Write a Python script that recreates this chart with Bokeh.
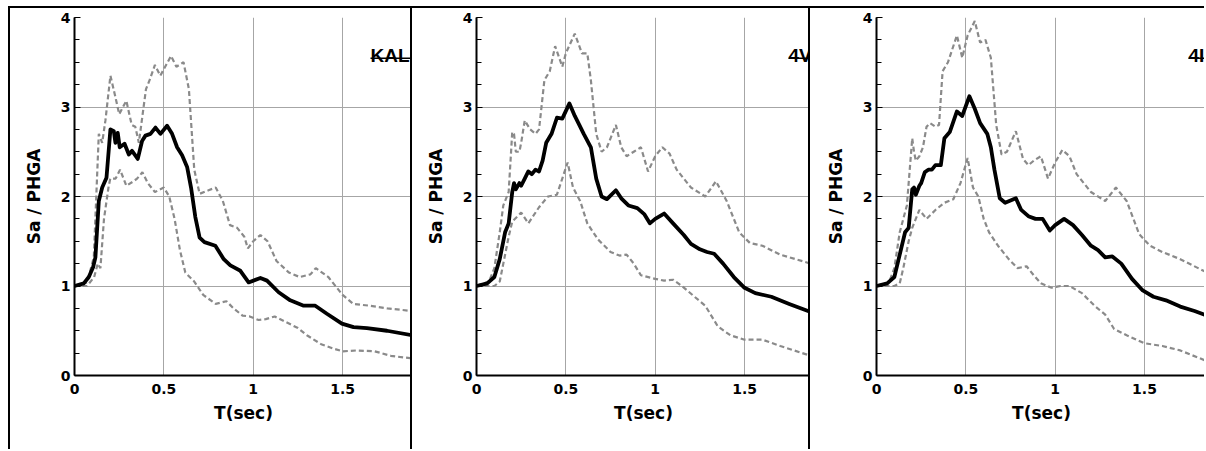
from bokeh.plotting import figure
from bokeh.layouts import row
from bokeh.models import FixedTicker
from bokeh.core.properties import value
from bokeh.embed import file_html
from bokeh.resources import INLINE

# ---------------- data ----------------
panel_titles = ["KAL", "4V", "4I"]
x_tick_values = [0, 0.5, 1, 1.5]
x_tick_labels = ["0", "0.5", "1", "1.5"]
y_tick_values = [0, 1, 2, 3, 4]
y_tick_labels = ["0", "1", "2", "3", "4"]

# Panel 1 (KAL)
kal_mean_t = [0, 0.052, 0.08, 0.104, 0.117, 0.136, 0.155, 0.179, 0.201, 0.22, 0.229, 0.242, 0.253, 0.28,
              0.304, 0.322, 0.354, 0.378, 0.397, 0.425, 0.453, 0.481, 0.518, 0.546, 0.574, 0.602, 0.63,
              0.652, 0.676, 0.70, 0.727, 0.788, 0.835, 0.872, 0.928, 0.974, 1.04, 1.077, 1.142, 1.207,
              1.282, 1.347, 1.412, 1.496, 1.561, 1.636, 1.748, 1.89]
kal_mean_sa = [1.0, 1.03, 1.10, 1.21, 1.32, 1.95, 2.10, 2.21, 2.75, 2.73, 2.60, 2.71, 2.55, 2.59,
               2.47, 2.51, 2.42, 2.62, 2.68, 2.70, 2.77, 2.70, 2.79, 2.70, 2.55, 2.46, 2.33,
               2.10, 1.77, 1.54, 1.49, 1.45, 1.30, 1.23, 1.17, 1.04, 1.09, 1.06, 0.93, 0.84,
               0.78, 0.78, 0.69, 0.58, 0.54, 0.53, 0.50, 0.45]
kal_hi_t = [0, 0.071, 0.108, 0.136, 0.155, 0.173, 0.201, 0.229, 0.25, 0.29, 0.32, 0.34, 0.36, 0.40, 0.42,
            0.45, 0.48, 0.54, 0.57, 0.61, 0.64, 0.67, 0.70, 0.75, 0.79, 0.83, 0.87, 0.91, 0.95, 0.97,
            1.0, 1.04, 1.08, 1.13, 1.20, 1.26, 1.32, 1.35, 1.42, 1.50, 1.56, 1.65, 1.75, 1.89]
kal_hi_sa = [1.0, 1.04, 1.32, 2.70, 2.60, 2.85, 3.35, 3.11, 2.92, 3.07, 2.80, 2.78, 2.60, 3.20, 3.30,
             3.47, 3.35, 3.57, 3.45, 3.50, 3.20, 2.30, 2.03, 2.07, 2.10, 1.95, 1.68, 1.65, 1.55, 1.42,
             1.50, 1.57, 1.50, 1.28, 1.15, 1.10, 1.13, 1.20, 1.10, 0.90, 0.80, 0.78, 0.75, 0.72]
kal_lo_t = [0, 0.07, 0.11, 0.13, 0.145, 0.165, 0.19, 0.20, 0.23, 0.255, 0.29, 0.33, 0.35, 0.38, 0.41,
            0.45, 0.50, 0.53, 0.56, 0.59, 0.62, 0.67, 0.72, 0.79, 0.85, 0.89, 0.94, 0.98, 1.03, 1.07,
            1.12, 1.18, 1.25, 1.30, 1.38, 1.45, 1.50, 1.58, 1.68, 1.77, 1.89]
kal_lo_sa = [1.0, 1.0, 1.10, 1.25, 1.20, 1.75, 2.10, 2.20, 2.20, 2.30, 2.12, 2.17, 2.20, 2.27, 2.15,
             2.05, 2.10, 2.00, 1.75, 1.40, 1.15, 1.05, 0.90, 0.80, 0.83, 0.75, 0.67, 0.66, 0.62, 0.63,
             0.66, 0.60, 0.53, 0.45, 0.35, 0.30, 0.27, 0.28, 0.27, 0.22, 0.19]

# Panel 2 (4V)
v_mean_t = [0, 0.06, 0.10, 0.13, 0.16, 0.18, 0.20, 0.21, 0.22, 0.24, 0.25, 0.27, 0.29, 0.31, 0.33, 0.35,
            0.37, 0.39, 0.42, 0.45, 0.48, 0.52, 0.55, 0.58, 0.60, 0.64, 0.67, 0.70, 0.73, 0.78, 0.81,
            0.85, 0.90, 0.94, 0.97, 1.0, 1.05, 1.10, 1.16, 1.20, 1.25, 1.29, 1.33, 1.38, 1.44, 1.50,
            1.56, 1.65, 1.75, 1.87]
v_mean_sa = [1.0, 1.03, 1.10, 1.30, 1.60, 1.70, 2.05, 2.15, 2.08, 2.15, 2.12, 2.20, 2.28, 2.25, 2.30, 2.28,
             2.40, 2.60, 2.70, 2.88, 2.87, 3.04, 2.90, 2.78, 2.70, 2.55, 2.20, 2.00, 1.97, 2.07, 1.98,
             1.90, 1.87, 1.80, 1.70, 1.75, 1.81, 1.70, 1.57, 1.47, 1.41, 1.38, 1.36, 1.25, 1.10, 0.98,
             0.92, 0.88, 0.80, 0.71]
v_hi_t = [0, 0.07, 0.10, 0.13, 0.15, 0.18, 0.20, 0.21, 0.22, 0.24, 0.25, 0.27, 0.30, 0.33, 0.35, 0.38,
          0.41, 0.44, 0.48, 0.50, 0.55, 0.59, 0.62, 0.64, 0.67, 0.70, 0.73, 0.78, 0.81, 0.84, 0.88,
          0.92, 0.96, 1.0, 1.04, 1.08, 1.12, 1.20, 1.28, 1.34, 1.40, 1.47, 1.53, 1.60, 1.70, 1.87]
v_hi_sa = [1.0, 1.05, 1.20, 1.60, 1.90, 2.05, 2.72, 2.70, 2.50, 2.50, 2.60, 2.85, 2.75, 2.70, 2.75, 3.30,
           3.40, 3.68, 3.45, 3.60, 3.82, 3.60, 3.60, 3.30, 2.70, 2.50, 2.55, 2.80, 2.55, 2.45, 2.50,
           2.55, 2.28, 2.45, 2.55, 2.48, 2.30, 2.10, 2.00, 2.17, 1.95, 1.60, 1.48, 1.45, 1.35, 1.25]
v_lo_t = [0, 0.10, 0.13, 0.15, 0.18, 0.20, 0.25, 0.29, 0.35, 0.40, 0.45, 0.48, 0.51, 0.54, 0.58, 0.62,
          0.68, 0.75, 0.80, 0.84, 0.88, 0.92, 1.0, 1.05, 1.10, 1.15, 1.22, 1.28, 1.35, 1.42, 1.50,
          1.60, 1.70, 1.87]
v_lo_sa = [1.0, 1.0, 1.05, 1.25, 1.55, 1.72, 1.82, 1.70, 1.88, 2.00, 2.02, 2.20, 2.38, 2.10, 1.95, 1.70,
           1.52, 1.38, 1.34, 1.35, 1.25, 1.12, 1.08, 1.06, 1.07, 1.00, 0.88, 0.78, 0.55, 0.45, 0.40,
           0.40, 0.33, 0.22]

# Panel 3 (4I)
i_mean_t = [0, 0.06, 0.10, 0.13, 0.16, 0.18, 0.20, 0.21, 0.22, 0.24, 0.25, 0.27, 0.29, 0.31, 0.33, 0.36,
            0.38, 0.41, 0.45, 0.48, 0.52, 0.55, 0.58, 0.62, 0.64, 0.66, 0.69, 0.72, 0.78, 0.81, 0.85,
            0.89, 0.93, 0.97, 1.0, 1.05, 1.10, 1.15, 1.20, 1.24, 1.28, 1.32, 1.37, 1.43, 1.49, 1.55,
            1.62, 1.70, 1.78, 1.85]
i_mean_sa = [1.0, 1.03, 1.10, 1.35, 1.60, 1.65, 2.08, 2.10, 2.02, 2.12, 2.15, 2.27, 2.30, 2.30, 2.35, 2.35,
             2.65, 2.72, 2.95, 2.90, 3.12, 2.98, 2.82, 2.70, 2.55, 2.30, 1.98, 1.93, 1.98, 1.85, 1.78,
             1.75, 1.75, 1.62, 1.68, 1.75, 1.68, 1.57, 1.45, 1.40, 1.32, 1.33, 1.25, 1.08, 0.95, 0.88,
             0.84, 0.77, 0.72, 0.67]
i_hi_t = [0, 0.07, 0.10, 0.13, 0.15, 0.17, 0.20, 0.21, 0.22, 0.24, 0.26, 0.28, 0.30, 0.33, 0.35, 0.37,
          0.40, 0.45, 0.48, 0.51, 0.55, 0.58, 0.61, 0.64, 0.67, 0.70, 0.73, 0.78, 0.82, 0.85, 0.88,
          0.92, 0.96, 1.0, 1.04, 1.08, 1.12, 1.20, 1.28, 1.34, 1.40, 1.47, 1.53, 1.60, 1.70, 1.85]
i_hi_sa = [1.0, 1.04, 1.20, 1.60, 1.75, 1.90, 2.65, 2.50, 2.40, 2.45, 2.55, 2.78, 2.82, 2.78, 2.80, 3.40,
           3.50, 3.80, 3.55, 3.80, 3.96, 3.72, 3.75, 3.55, 2.80, 2.47, 2.50, 2.73, 2.42, 2.35, 2.40,
           2.45, 2.20, 2.38, 2.52, 2.45, 2.25, 2.05, 1.95, 2.10, 1.95, 1.58, 1.45, 1.38, 1.30, 1.15]
i_lo_t = [0, 0.10, 0.13, 0.15, 0.18, 0.20, 0.24, 0.28, 0.33, 0.38, 0.43, 0.47, 0.51, 0.54, 0.57, 0.60,
          0.63, 0.68, 0.74, 0.79, 0.84, 0.88, 0.92, 0.98, 1.03, 1.08, 1.15, 1.22, 1.28, 1.33, 1.40,
          1.50, 1.60, 1.70, 1.85]
i_lo_sa = [1.0, 1.0, 1.03, 1.20, 1.50, 1.65, 1.85, 1.75, 1.85, 1.93, 1.97, 2.15, 2.43, 2.10, 2.00, 1.75,
           1.60, 1.45, 1.30, 1.20, 1.22, 1.12, 1.03, 0.98, 1.00, 1.00, 0.92, 0.78, 0.68, 0.52, 0.45,
           0.36, 0.33, 0.28, 0.16]

panels = [
    dict(title=panel_titles[0], mean=(kal_mean_t, kal_mean_sa), hi=(kal_hi_t, kal_hi_sa),
         lo=(kal_lo_t, kal_lo_sa), width=402, left=64, xmax=1.891, title_x=1.656),
    dict(title=panel_titles[1], mean=(v_mean_t, v_mean_sa), hi=(v_hi_t, v_hi_sa),
         lo=(v_lo_t, v_lo_sa), width=398, left=64, xmax=1.869, title_x=1.746),
    dict(title=panel_titles[2], mean=(i_mean_t, i_mean_sa), hi=(i_hi_t, i_hi_sa),
         lo=(i_lo_t, i_lo_sa), width=396, left=66, xmax=1.847, title_x=1.746),
]

AXIS_FONT = "DejaVu Sans"
GRAY = "#8a8a8a"


def make_panel(cfg):
    p = figure(width=cfg["width"], height=443, x_range=(0, cfg["xmax"]), y_range=(0, 4),
               output_backend="svg", toolbar_location=None,
               min_border_left=cfg["left"], min_border_right=0, min_border_top=9, min_border_bottom=76)
    p.outline_line_color = None
    p.background_fill_color = "white"
    p.border_fill_color = "white"
    p.styles = {"border-top": "2px solid black", "border-left": "2px solid black",
                "box-sizing": "border-box"}

    p.xaxis.ticker = FixedTicker(ticks=x_tick_values)
    p.xaxis.major_label_overrides = dict(zip(x_tick_values, x_tick_labels))
    p.yaxis.ticker = FixedTicker(ticks=y_tick_values,
                                 minor_ticks=[v / 4 for v in range(0, 17)])
    p.yaxis.major_label_overrides = dict(zip(y_tick_values, y_tick_labels))

    for ax in (p.xaxis, p.yaxis):
        ax.axis_line_color = "black"
        ax.axis_line_width = 2
        ax.major_tick_out = 0
        ax.minor_tick_out = 0
        ax.major_label_text_font = AXIS_FONT
        ax.major_label_text_font_style = "bold"
        ax.major_label_text_font_size = "14px"
        ax.major_label_text_color = "black"
        ax.axis_label_text_font = AXIS_FONT
        ax.axis_label_text_font_style = "bold"
        ax.axis_label_text_font_size = "17px"
        ax.axis_label_text_color = "black"
    p.xaxis.major_tick_in = 0
    p.xaxis.minor_tick_in = 0
    p.yaxis.major_tick_in = 6
    p.yaxis.minor_tick_in = 5
    p.yaxis.major_tick_line_color = "black"
    p.yaxis.minor_tick_line_color = "black"
    p.xaxis.major_label_standoff = 8
    p.yaxis.major_label_standoff = 4
    p.xaxis.axis_label = "T(sec)"
    p.yaxis.axis_label = "Sa / PHGA"
    p.xaxis.axis_label_standoff = 6
    p.yaxis.axis_label_standoff = 14

    p.grid.grid_line_color = "#a6a6a6"
    p.grid.grid_line_width = 1

    p.line(*cfg["hi"], line_color=GRAY, line_width=2.2, line_dash="5 3")
    p.line(*cfg["lo"], line_color=GRAY, line_width=2.2, line_dash="5 3")
    p.line(*cfg["mean"], line_color="black", line_width=3.8, line_join="round")

    p.text(x=[cfg["title_x"]], y=[3.58], text=[cfg["title"]],
           text_font=value("Liberation Sans"), text_font_style="bold",
           text_font_size="19px", text_color="black", text_baseline="alphabetic")
    p.segment(x0=[cfg["title_x"]], y0=[3.545], x1=[cfg["xmax"]], y1=[3.545],
              line_color="black", line_width=1.5)
    return p


layout = row(*[make_panel(c) for c in panels], spacing=0,
             styles={"margin-left": "8px", "margin-top": "6px"})
open("out.html", "w").write(file_html(layout, INLINE))
